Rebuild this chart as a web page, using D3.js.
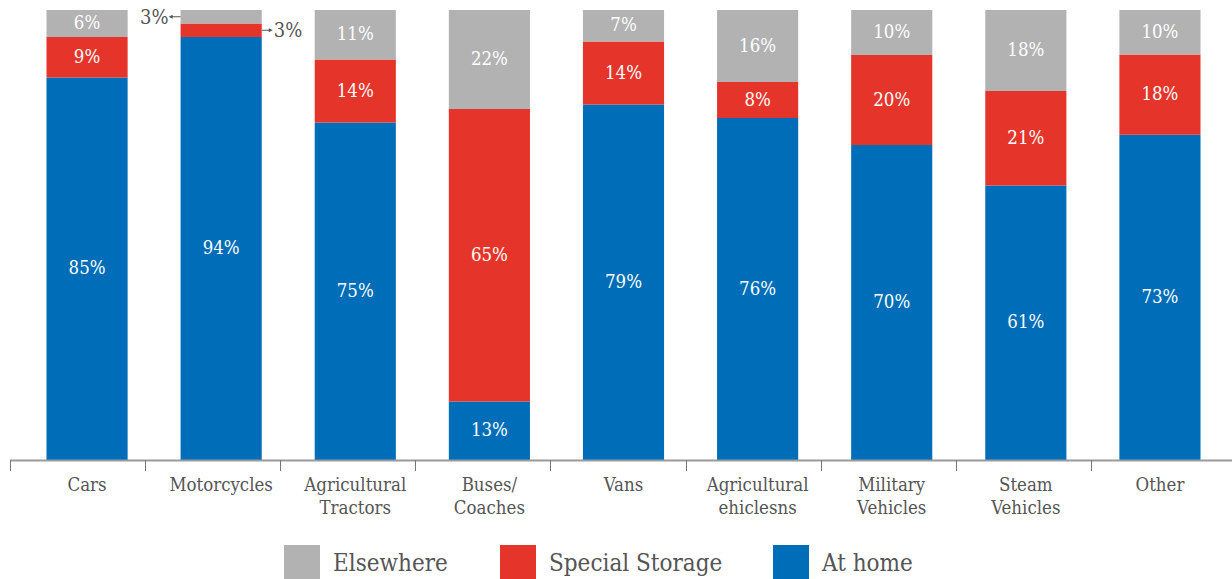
<!DOCTYPE html>
<html>
<head>
<meta charset="utf-8">
<script src="https://cdn.jsdelivr.net/npm/d3@7"></script>
<style>
  html, body { margin: 0; padding: 0; background: #fff; }
  svg { display: block; }
  text { font-family: "DejaVu Serif Condensed", "DejaVu Serif", serif; }
</style>
</head>
<body>
<svg id="chart" width="1232" height="579"></svg>
<script>
const categories = ["Cars", "Motorcycles", "Agricultural\nTractors", "Buses/\nCoaches", "Vans",
  "Agricultural\nehiclesns", "Military\nVehicles", "Steam\nVehicles", "Other"];
const atHome = [85, 94, 75, 13, 79, 76, 70, 61, 73];
const specialStorage = [9, 3, 14, 65, 14, 8, 20, 21, 18];
const elsewhere = [6, 3, 11, 22, 7, 16, 10, 18, 10];
const seriesNames = ["At home", "Special Storage", "Elsewhere"];
const legendOrder = ["Elsewhere", "Special Storage", "At home"];
const colors = { "At home": "#006DB8", "Special Storage": "#E5352A", "Elsewhere": "#B2B2B2" };

const rows = categories.map((c, i) => ({
  cat: c, "At home": atHome[i], "Special Storage": specialStorage[i], "Elsewhere": elsewhere[i]
}));

const svg = d3.select("#chart");
const plotTop = 10, plotBottom = 460;

const x = d3.scaleBand().domain(categories).range([20, 1227]).paddingInner(0.395).paddingOuter(0.1975);
const xTicks = d3.scaleBand().domain(categories).range([10, 1226]);
const y = d3.scaleLinear().domain([0, 1]).range([plotBottom, plotTop]);

const stack = d3.stack().keys(seriesNames).offset(d3.stackOffsetExpand);
const stacked = stack(rows);

const g = svg.append("g");
stacked.forEach(layer => {
  const key = layer.key;
  g.selectAll(null).data(layer).enter().append("rect")
    .attr("x", d => x(d.data.cat))
    .attr("width", x.bandwidth())
    .attr("y", d => y(d[1]))
    .attr("height", d => y(d[0]) - y(d[1]))
    .attr("fill", colors[key]);
});

// value labels
stacked.forEach(layer => {
  const key = layer.key;
  layer.forEach((d, i) => {
    const v = d.data[key];
    const cx = x(d.data.cat) + x.bandwidth() / 2;
    const cy = (y(d[0]) + y(d[1])) / 2;
    if (d.data.cat === "Motorcycles" && key !== "At home") {
      if (key === "Elsewhere") {
        const bx = x(d.data.cat);
        g.append("line").attr("x1", bx).attr("x2", bx - 10).attr("y1", cy).attr("y2", cy)
          .attr("stroke", "#555").attr("stroke-width", 1);
        g.append("path").attr("d", `M${bx - 12},${cy} l4,-2 l0,4 z`).attr("fill", "#555");
        g.append("text").attr("x", bx - 12).attr("y", cy).attr("dy", "0.35em")
          .attr("text-anchor", "end").attr("font-size", 20).attr("fill", "#555").text(v + "%");
      } else {
        const bx = x(d.data.cat) + x.bandwidth();
        g.append("line").attr("x1", bx).attr("x2", bx + 8).attr("y1", cy).attr("y2", cy)
          .attr("stroke", "#555").attr("stroke-width", 1);
        g.append("path").attr("d", `M${bx + 11},${cy} l-4,-2 l0,4 z`).attr("fill", "#555");
        g.append("text").attr("x", bx + 12).attr("y", cy).attr("dy", "0.35em")
          .attr("text-anchor", "start").attr("font-size", 20).attr("fill", "#555").text(v + "%");
      }
      return;
    }
    g.append("text").attr("x", cx).attr("y", cy).attr("dy", "0.3em")
      .attr("text-anchor", "middle").attr("font-size", 18.5).attr("fill", "#fff").text(v + "%");
  });
});

// axis
const axisG = svg.append("g");
axisG.append("line").attr("x1", 10).attr("x2", 1232).attr("y1", plotBottom + 0.5).attr("y2", plotBottom + 0.5)
  .attr("stroke", "#9a9a9a").attr("stroke-width", 2);
categories.forEach(c => {
  const tx = Math.round(xTicks(c)) + 0.5;
  axisG.append("line").attr("x1", tx).attr("x2", tx).attr("y1", plotBottom).attr("y2", plotBottom + 11)
    .attr("stroke", "#777").attr("stroke-width", 1);
  const lines = c.split("\n");
  const t = axisG.append("text").attr("x", x(c) + x.bandwidth() / 2).attr("y", 491)
    .attr("text-anchor", "middle").attr("font-size", 18.5).attr("fill", "#555");
  lines.forEach((ln, k) => {
    t.append("tspan").attr("x", x(c) + x.bandwidth() / 2).attr("dy", k === 0 ? 0 : 23).text(ln);
  });
});

// legend
const legendX = { "Elsewhere": 284, "Special Storage": 500, "At home": 773 };
legendOrder.forEach(k => {
  const lx = legendX[k];
  svg.append("rect").attr("x", lx).attr("y", 545).attr("width", 36).attr("height", 36).attr("fill", colors[k]);
  svg.append("text").attr("x", lx + 49).attr("y", 563).attr("dy", "0.35em")
    .attr("font-size", 24).attr("fill", "#555").text(k);
});
</script>
</body>
</html>
